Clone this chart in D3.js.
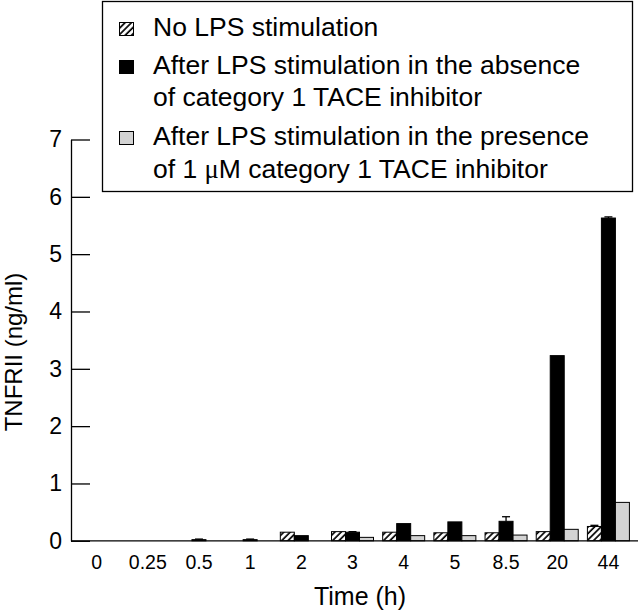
<!DOCTYPE html>
<html>
<head>
<meta charset="utf-8">
<script src="https://cdn.jsdelivr.net/npm/d3@7"></script>
<style>
  html, body { margin: 0; padding: 0; background: #fff; }
  svg { display: block; }
  text { font-family: "Liberation Sans", Arial, Helvetica, sans-serif; fill: #000; }
</style>
</head>
<body>
<svg id="chart" width="640" height="612"></svg>
<script>
// ---- data ----
const categories = ["0", "0.25", "0.5", "1", "2", "3", "4", "5", "8.5", "20", "44"];
const noLPS      = [0, 0, 0, 0, 0.15, 0.16, 0.15, 0.14, 0.14, 0.16, 0.25];
const lpsNoInhib = [0, 0, 0.02, 0.02, 0.09, 0.15, 0.30, 0.33, 0.34, 3.23, 5.63];
const lpsInhib   = [0, 0, 0, 0, 0, 0.06, 0.09, 0.09, 0.10, 0.20, 0.67];
const errNoLPS      = [0, 0, 0, 0, 0, 0, 0, 0, 0, 0, 0.02];
const errLpsNoInhib = [0, 0, 0.01, 0.01, 0, 0.01, 0, 0, 0.08, 0, 0.02];
const errLpsInhib   = [0, 0, 0, 0, 0, 0, 0, 0, 0, 0, 0];
const yTicks = [0, 1, 2, 3, 4, 5, 6, 7];
const seriesNames = ["noLPS", "lpsNoInhib", "lpsInhib"];
const legendLines = [
  ["No LPS stimulation"],
  ["After LPS stimulation in the absence", "of category 1 TACE inhibitor"],
  ["After LPS stimulation in the presence", "of 1 \u03BCM category 1 TACE inhibitor"]
];

const series = [
  { key: "noLPS", values: noLPS, err: errNoLPS, fill: "url(#hatch)" },
  { key: "lpsNoInhib", values: lpsNoInhib, err: errLpsNoInhib, fill: "#000" },
  { key: "lpsInhib", values: lpsInhib, err: errLpsInhib, fill: "#d3d3d3" }
];

const svg = d3.select("#chart");

// hatch pattern
const defs = svg.append("defs");
const pat = defs.append("pattern")
  .attr("id", "hatch")
  .attr("patternUnits", "userSpaceOnUse")
  .attr("width", 4.5).attr("height", 4.5)
  .attr("patternTransform", "rotate(45)");
pat.append("rect").attr("width", 4.5).attr("height", 4.5).attr("fill", "#fff");
pat.append("line").attr("x1", 1).attr("y1", 0).attr("x2", 1).attr("y2", 4.5)
  .attr("stroke", "#000").attr("stroke-width", 1.7);

const mLeft = 71, mRight = 634, mTop = 139.5, mBottom = 540.8;

const x = d3.scaleBand().domain(categories).range([mLeft, mRight]).paddingInner(0).paddingOuter(0);
const xs = d3.scaleBand().domain(seriesNames).range([0, 42]);
const y = d3.scaleLinear().domain([0, 7]).range([mBottom, mTop]);
const groupOffset = (x.bandwidth() - 42) / 2;

// bars
const g = svg.append("g");
series.forEach(s => {
  const sg = g.append("g");
  const rows = categories.map((c, i) => ({ c, v: s.values[i], e: s.err[i] }));
  sg.selectAll("rect")
    .data(rows.filter(d => d.v > 0))
    .enter().append("rect")
    .attr("x", d => x(d.c) + groupOffset + xs(s.key))
    .attr("y", d => y(d.v))
    .attr("width", xs.bandwidth())
    .attr("height", d => y(0) - y(d.v))
    .attr("fill", s.fill)
    .attr("stroke", "#000")
    .attr("stroke-width", 1);
  const eb = sg.selectAll("g.err")
    .data(rows.filter(d => d.e > 0))
    .enter().append("g");
  const cx = d => x(d.c) + groupOffset + xs(s.key) + xs.bandwidth() / 2;
  eb.append("line")
    .attr("x1", cx).attr("x2", cx)
    .attr("y1", d => y(d.v)).attr("y2", d => y(d.v + d.e))
    .attr("stroke", "#000").attr("stroke-width", 1.3);
  eb.append("line")
    .attr("x1", d => cx(d) - 4).attr("x2", d => cx(d) + 4)
    .attr("y1", d => y(d.v + d.e)).attr("y2", d => y(d.v + d.e))
    .attr("stroke", "#000").attr("stroke-width", 1.3);
});

// y axis
const yAxis = svg.append("g")
  .attr("transform", `translate(${mLeft},0)`)
  .call(d3.axisLeft(y).tickValues(yTicks).tickFormat(d3.format("d"))
    .tickSizeInner(-19).tickSizeOuter(0).tickPadding(9));
yAxis.selectAll("text").style("font-size", "23px").attr("fill", "#000");
yAxis.selectAll("line").attr("stroke", "#000").attr("stroke-width", 1.3);
yAxis.select(".domain").attr("stroke", "#000").attr("stroke-width", 1.3);

// x axis
const xAxis = svg.append("g")
  .attr("transform", `translate(0,${mBottom})`)
  .call(d3.axisBottom(x).tickSize(0).tickPadding(14));
xAxis.selectAll("text").style("font-size", "19.5px").attr("fill", "#000");
xAxis.select(".domain").attr("d", `M${mLeft},0H638`).attr("stroke", "#000").attr("stroke-width", 1.3);

// axis titles
svg.append("text")
  .attr("transform", "translate(22,352) rotate(-90)")
  .attr("text-anchor", "middle")
  .style("font-size", "24px")
  .text("TNFRII (ng/ml)");
svg.append("text")
  .attr("x", 360).attr("y", 605)
  .attr("text-anchor", "middle")
  .style("font-size", "25px")
  .text("Time (h)");

// legend
const lg = svg.append("g");
lg.append("rect").attr("x", 102.5).attr("y", 1.5).attr("width", 530).attr("height", 190)
  .attr("fill", "#fff").attr("stroke", "#000").attr("stroke-width", 1.3);
const baselines = [[36], [74, 106], [145, 178]];
series.forEach((s, i) => {
  const b = baselines[i][0];
  lg.append("rect").attr("x", 119.5).attr("y", b - 13.5).attr("width", 14).attr("height", 13)
    .attr("fill", s.fill).attr("stroke", "#000").attr("stroke-width", 1);
  legendLines[i].forEach((line, j) => {
    const t = lg.append("text").attr("x", 153).attr("y", baselines[i][j]).style("font-size", "26.5px");
    if (line.includes("\u03BC")) {
      const parts = line.split("\u03BC");
      t.append("tspan").text(parts[0]);
      t.append("tspan").style("font-family", "'Liberation Serif', serif").text("\u03BC");
      t.append("tspan").text(parts[1]);
    } else {
      t.text(line);
    }
  });
});
</script>
</body>
</html>
